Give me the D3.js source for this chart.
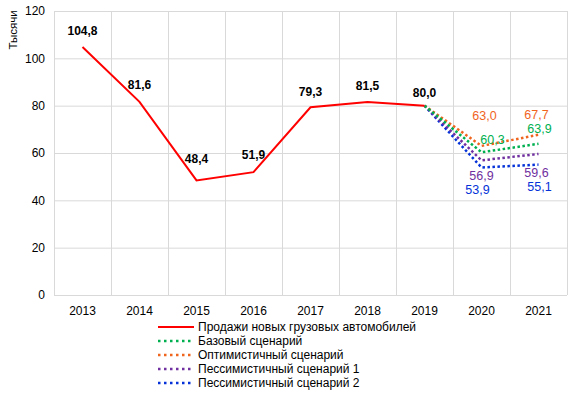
<!DOCTYPE html>
<html lang="ru">
<head>
<meta charset="UTF-8">
<script src="https://d3js.org/d3.v7.min.js"></script>
<style>
  body { margin: 0; background: #fff; }
  text { font-family: "Liberation Sans", Arial, sans-serif; }
</style>
</head>
<body>
<svg id="chart" width="581" height="395"></svg>
<script>
// data
const years = ["2013", "2014", "2015", "2016", "2017", "2018", "2019", "2020", "2021"];
const salesYears = ["2013", "2014", "2015", "2016", "2017", "2018", "2019"];
const sales = [104.8, 81.6, 48.4, 51.9, 79.3, 81.5, 80.0];
const scenarioYears = ["2019", "2020", "2021"];
const baseScenario = [80.0, 60.3, 63.9];
const optimisticScenario = [80.0, 63.0, 67.7];
const pessimistic1 = [80.0, 56.9, 59.6];
const pessimistic2 = [80.0, 53.9, 55.1];
const yTicks = [0, 20, 40, 60, 80, 100, 120];
const salesName = "Продажи новых грузовых автомобилей";
const scenarioNames = ["Базовый сценарий", "Оптимистичный сценарий", "Пессимистичный сценарий 1", "Пессимистичный сценарий 2"];

const width = 581, height = 395;
const svg = d3.select("#chart");
svg.append("rect").attr("width", width).attr("height", height).attr("fill", "#fff");

const x = d3.scaleBand().domain(years).range([54, 567]);
const y = d3.scaleLinear().domain([0, 120]).range([295, 11]);
const cx = d => x(d) + x.bandwidth() / 2;
const fmt = v => v.toFixed(1).replace(".", ",");

// grid
const grid = svg.append("g");
grid.selectAll(".h").data(yTicks).enter().append("line")
    .attr("x1", 54).attr("x2", 567)
    .attr("y1", d => y(d) + 0.5).attr("y2", d => y(d) + 0.5)
    .attr("stroke", "#d9d9d9");
grid.selectAll(".v").data(years.concat(["end"])).enter().append("line")
    .attr("x1", (d, i) => Math.round(54 + i * x.bandwidth()) + 0.5)
    .attr("x2", (d, i) => Math.round(54 + i * x.bandwidth()) + 0.5)
    .attr("y1", y(120)).attr("y2", y(0))
    .attr("stroke", "#d9d9d9");

// axes labels
svg.append("g").selectAll("text").data(yTicks).enter().append("text")
    .attr("x", 45).attr("y", d => y(d)).attr("dy", "0.35em")
    .attr("text-anchor", "end").attr("font-size", 12).attr("fill", "#000")
    .text(d => d);
svg.append("g").selectAll("text").data(years).enter().append("text")
    .attr("x", d => cx(d)).attr("y", 311).attr("dy", "0.35em")
    .attr("text-anchor", "middle").attr("font-size", 12).attr("fill", "#000")
    .text(d => d);
svg.append("text")
    .attr("transform", "translate(13,30) rotate(-90)")
    .attr("dy", "0.35em").attr("text-anchor", "middle")
    .attr("font-size", 11.5).attr("fill", "#000")
    .text("Тысячи");

// scenario lines
const scenarios = [
    { name: scenarioNames[3], values: pessimistic2, color: "#0432d8", off: [[-4, 22], [1, 22]] },
    { name: scenarioNames[2], values: pessimistic1, color: "#7030a0", off: [[0, 15], [-2, 19]] },
    { name: scenarioNames[1], values: optimisticScenario, color: "#f0651d", off: [[3, -30], [-2, -20]] },
    { name: scenarioNames[0], values: baseScenario, color: "#00b050", off: [[11, -13], [1, -15]] }
];
const line = d3.line().x(d => cx(d.year)).y(d => y(d.v));

scenarios.forEach(s => {
    const pts = scenarioYears.map((yr, i) => ({ year: yr, v: s.values[i] }));
    svg.append("path").datum(pts)
        .attr("d", line).attr("fill", "none")
        .attr("stroke", s.color).attr("stroke-width", 2.5)
        .attr("stroke-dasharray", "2.5,2.5");
});

// main line
const mainPts = salesYears.map((yr, i) => ({ year: yr, v: sales[i] }));
svg.append("path").datum(mainPts)
    .attr("d", line).attr("fill", "none")
    .attr("stroke", "#ff0000").attr("stroke-width", 2);

// main labels
const mainDy = [-16, -17, -22, -17, -16, -16, -13];
svg.append("g").selectAll("text").data(mainPts).enter().append("text")
    .attr("x", d => cx(d.year)).attr("y", (d, i) => y(d.v) + mainDy[i])
    .attr("dy", "0.35em").attr("text-anchor", "middle")
    .attr("font-size", 12).attr("font-weight", "bold").attr("fill", "#000")
    .text(d => fmt(d.v));

// scenario labels
scenarios.forEach(s => {
    [1, 2].forEach(i => {
        const o = s.off[i - 1];
        svg.append("text")
            .attr("x", cx(scenarioYears[i]) + o[0]).attr("y", y(s.values[i]) + o[1])
            .attr("dy", "0.35em").attr("text-anchor", "middle")
            .attr("font-size", 12.5).attr("fill", s.color)
            .text(fmt(s.values[i]));
    });
});

// legend
const legendItems = [{ name: salesName, color: "#ff0000", solid: true }]
    .concat(scenarioNames.map(n => {
        const s = scenarios.find(t => t.name === n);
        return { name: n, color: s.color, solid: false };
    }));
const lg = svg.append("g");
legendItems.forEach((d, i) => {
    const ly = 327 + i * 14;
    lg.append("line")
        .attr("x1", 158).attr("x2", 194).attr("y1", ly).attr("y2", ly)
        .attr("stroke", d.color).attr("stroke-width", d.solid ? 2 : 2.5)
        .attr("stroke-dasharray", d.solid ? null : "2.5,3.5");
    lg.append("text")
        .attr("x", 198).attr("y", ly).attr("dy", "0.35em")
        .attr("font-size", 12).attr("fill", "#000")
        .text(d.name);
});
</script>
</body>
</html>
